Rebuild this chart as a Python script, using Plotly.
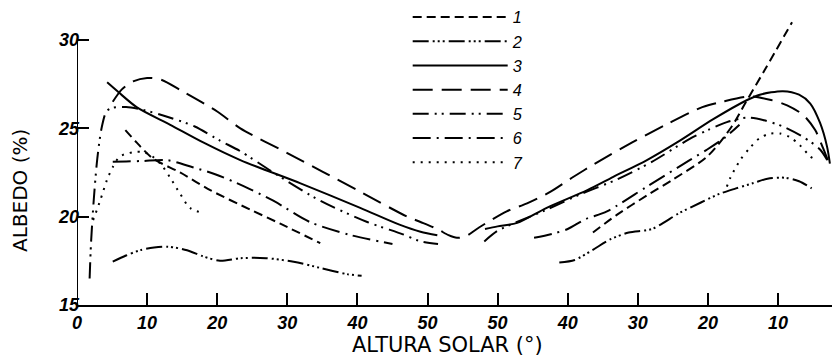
import plotly.graph_objects as go

# x axis: continuous position along the day (morning altitude 0..~55, then afternoon back down)
x_tick_pos = [0, 10, 20, 30, 40, 50, 60, 70, 80, 90, 100]
x_tick_text = ["0", "10", "20", "30", "40", "50", "50", "40", "30", "20", "10"]
y_tick_vals = [15, 20, 25, 30]
series_names = ["1", "2", "3", "4", "5", "6", "7"]

s1_x = [6.9, 8.5, 10.8, 14.7, 19, 24.7, 29, 34.7, None,
        73.6, 77, 81.3, 85, 89.9, 93.4, 95.3, 98.1, 102]
s1_y = [24.9, 24.2, 23.3, 22.5, 21.5, 20.4, 19.6, 18.5, None,
        19.1, 20.1, 21.2, 22.1, 23.4, 25.1, 26.4, 28.3, 31.0]

s2_x = [5.1, 7, 9, 11, 13, 15.7, 18, 20.4, 23.3, 27, 30.9, 34.7, 38.5, 40.6, None,
        68.8, 71, 73.5, 76, 78.7, 82, 85.9, 89, 91.7, 94, 96.5, 98.5, 101, 103, 104.8]
s2_y = [17.45, 17.8, 18.1, 18.25, 18.3, 18.1, 17.75, 17.5, 17.65, 17.65, 17.45, 17.1, 16.75, 16.65, None,
        17.4, 17.55, 18.1, 18.7, 19.1, 19.3, 20.2, 20.8, 21.3, 21.6, 21.9, 22.15, 22.2, 22.0, 21.6]

s3_x = [4.3, 5.9, 8.5, 13.3, 18, 23.3, 31.8, 40.4, 46, 49, 51.4, None,
        58.2, 60, 62.8, 67, 72.8, 76.5, 81.3, 86, 90.7, 95.6, 97.4, 100.7, 103, 104.6, 106, 107, 107.4]
s3_y = [27.6, 27.05, 26.2, 25.2, 24.2, 23.2, 21.9, 20.5, 19.55, 19.15, 18.95, None,
        19.3, 19.45, 19.65, 20.5, 21.5, 22.25, 23.2, 24.3, 25.5, 26.6, 26.9, 27.1, 26.9, 26.4, 25.3, 23.95, 23.0]

s4_x = [5.1, 6.4, 8, 10, 12, 15, 20, 23.3, 30, 35, 40, 47.1, 49, 51.4, 53, 54.2, 55.5, 57.4,
        61.3, 64.2, 67.5, 70.6, 73.9, 79.2, 84, 89.2, 92, 96, 99, 101.3, 103.6, 105.3, 106.4, 107.1]
s4_y = [26.5, 27.2, 27.65, 27.85, 27.75, 27.1, 25.95, 25.0, 23.6, 22.55, 21.5, 20.0, 19.7, 19.3, 18.95, 18.8, 18.9, 19.4,
        20.3, 20.75, 21.4, 22.2, 23.0, 24.2, 25.2, 26.2, 26.5, 26.8, 26.6, 26.3, 25.75, 24.9, 23.9, 23.2]

s5_x = [1.8, 2.0, 2.4, 2.9, 3.5, 4.2, 5, 7, 9.3, 13.3, 16.8, 20.4, 23.3, 28, 34.7, 41.4, 46.5, 49, 51.5, None,
        58.1, 60, 62.2, 67, 72, 77, 82, 87.4, 90, 92.7, 95.6, 98, 100.7, 103.6, 106, 107.3]
s5_y = [16.5, 18.5, 21.0, 23.3, 25.0, 25.95, 26.15, 26.2, 26.05, 25.6, 25.1, 24.3, 23.7, 22.5, 20.9, 19.7, 19.0, 18.6, 18.45, None,
        18.6, 19.2, 19.6, 20.4, 21.3, 22.1, 23.1, 24.4, 24.9, 25.35, 25.6, 25.45, 25.1, 24.5, 23.8, 23.0]

s6_x = [5.1, 7, 9.4, 12.8, 16.5, 19.7, 22.8, 28, 33.2, 39, 45, None,
        65.2, 68, 70, 72.5, 75.6, 81.3, 87.4, 89.9, 92.5, 94.5]
s6_y = [23.1, 23.12, 23.15, 23.2, 22.8, 22.4, 21.9, 20.9, 19.7, 18.96, 18.45, None,
        18.8, 19.05, 19.3, 19.85, 20.3, 21.7, 23.2, 23.8, 24.5, 25.2]

s7_x = [2.3, 3.3, 4.3, 5.1, 6.1, 8, 9.3, 10.4, 11.9, 13.3, 14.7, 16.1, 17.9, None,
        92.7, 93.2, 94.6, 96, 97.4, 98.9, 100.3, 101.7, 103.1, 104.6, 105]
s7_y = [19.8, 20.9, 22.1, 22.8, 23.4, 23.65, 23.66, 23.5, 23.0, 22.2, 21.3, 20.5, 20.2, None,
        21.7, 22.2, 23.2, 23.9, 24.45, 24.7, 24.7, 24.5, 24.05, 23.4, 23.3]

xs = [s1_x, s2_x, s3_x, s4_x, s5_x, s6_x, s7_x]
ys = [s1_y, s2_y, s3_y, s4_y, s5_y, s6_y, s7_y]
dashes = [
    "9px,5px",
    "16px,4px,2px,3px,2px,3px,2px,4px",
    "solid",
    "20px,9px",
    "16px,6px,2px,5px,2px,6px",
    "18px,6px,2px,6px",
    "2px,6px",
]

fig = go.Figure()
for name, x, y, d in zip(series_names, xs, ys, dashes):
    fig.add_trace(go.Scatter(
        x=x, y=y, name=name, mode="lines",
        line=dict(color="black", width=2, dash=d, shape="spline", smoothing=0.8),
        connectgaps=False,
    ))

tick_font = dict(family="Liberation Sans", size=18, color="black", style="italic", weight="bold")
title_font = dict(family="DejaVu Sans", size=20, color="black")

fig.update_layout(
    width=832, height=364,
    margin=dict(l=77, r=0, t=0, b=59),
    paper_bgcolor="white", plot_bgcolor="white",
    showlegend=True,
    legend=dict(
        x=0.438, y=1.0, xanchor="left", yanchor="top",
        itemwidth=95, bgcolor="rgba(0,0,0,0)",
        font=dict(family="Liberation Sans", size=16.3, color="black", style="italic"),
        tracegroupgap=0,
    ),
    xaxis=dict(
        range=[0, 107.7], tickmode="array", tickvals=x_tick_pos, ticktext=x_tick_text,
        showgrid=False, zeroline=False, showline=True, linecolor="black", linewidth=2,
        ticks="inside", ticklen=12, tickwidth=2, tickcolor="black", tickfont=tick_font,
    ),
    yaxis=dict(
        range=[15, 32.26], tickmode="array", tickvals=y_tick_vals,
        showgrid=False, zeroline=False, showline=False,
        ticks="inside", ticklen=12, tickwidth=2, tickcolor="black", tickfont=tick_font,
        ticklabelstandoff=-3,
    ),
    shapes=[dict(type="line", xref="x", yref="y", x0=x_tick_pos[0], x1=x_tick_pos[0],
                 y0=y_tick_vals[0], y1=y_tick_vals[-1], line=dict(color="black", width=2))],
    annotations=[
        dict(text="ALTURA SOLAR (°)", xref="paper", yref="paper", x=0.491, y=-0.131,
             xanchor="center", yanchor="middle", showarrow=False,
             font=dict(family="DejaVu Sans", size=21, color="black")),
        dict(text="ALBEDO (%)", xref="paper", yref="paper", x=-0.0755, y=0.377,
             xanchor="center", yanchor="middle", textangle=-90, showarrow=False, font=title_font),
    ],
)

fig.write_html("out.html", config={"displayModeBar": False},
               post_script="document.body.style.margin='0px';")
